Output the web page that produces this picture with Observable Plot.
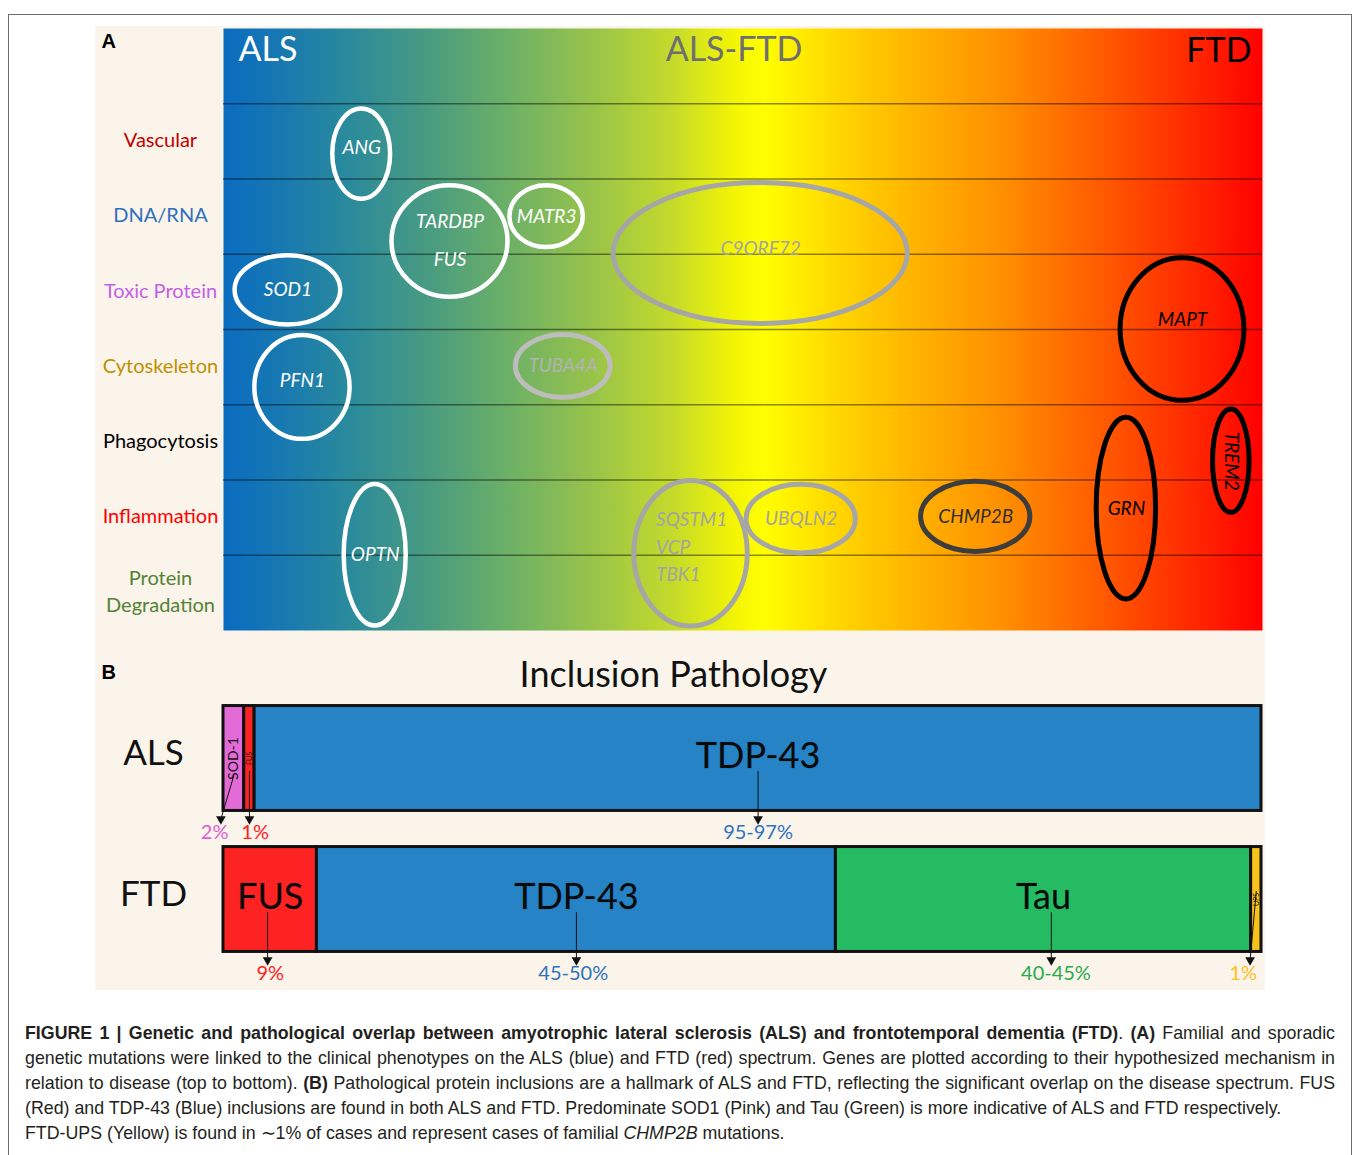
<!DOCTYPE html>
<html><head><meta charset="utf-8">
<script src="https://cdn.jsdelivr.net/npm/d3@7"></script>
<script src="https://cdn.jsdelivr.net/npm/@observablehq/plot@0.6"></script>
<style>
body{margin:0;background:#fff;width:1354px;height:1155px;position:relative;overflow:hidden;font-family:Lato,sans-serif}
#frame{position:absolute;left:8px;top:14px;width:1344px;height:1200px;border:1px solid #6d6d6d;box-sizing:border-box}
#fig{position:absolute;left:95px;top:26px;width:1170px;height:964px;background:#fbf4ea}
#panelA{position:absolute;left:0;top:0}
#panelB{position:absolute;left:0;top:614px}
#caption{position:absolute;left:25px;top:1021px;width:1310px;font-family:"Liberation Sans",Arial,sans-serif;font-size:17.8px;line-height:25px;color:#231f20}
#caption div{white-space:nowrap}
#caption .j{text-align:justify;text-align-last:justify;white-space:normal}
svg{overflow:visible}
</style></head>
<body>
<div id="frame"></div>
<div id="fig"><div id="panelA"></div><div id="panelB"></div></div>
<div id="caption">
<div class="j"><b>FIGURE 1 | Genetic and pathological overlap between amyotrophic lateral sclerosis (ALS) and frontotemporal dementia (FTD)</b>. <b>(A)</b> Familial and sporadic</div>
<div class="j">genetic mutations were linked to the clinical phenotypes on the ALS (blue) and FTD (red) spectrum. Genes are plotted according to their hypothesized mechanism in</div>
<div class="j">relation to disease (top to bottom). <b>(B)</b> Pathological protein inclusions are a hallmark of ALS and FTD, reflecting the significant overlap on the disease spectrum. FUS</div>
<div>(Red) and TDP-43 (Blue) inclusions are found in both ALS and FTD. Predominate SOD1 (Pink) and Tau (Green) is more indicative of ALS and FTD respectively.</div>
<div>FTD-UPS (Yellow) is found in ∼1% of cases and represent cases of familial <i>CHMP2B</i> mutations.</div>
</div>
<script>
// ---------- Panel A data ----------
const mechanisms = ["Vascular","DNA/RNA","Toxic Protein","Cytoskeleton","Phagocytosis","Inflammation","Protein\nDegradation"];
const spectrumLabels = ["ALS","ALS-FTD","FTD"];
const genes        = ["ANG","TARDBP\nFUS","MATR3","C9ORF72","SOD1","PFN1","TUBA4A","OPTN","SQSTM1\nVCP\nTBK1","UBQLN2","CHMP2B","MAPT","GRN","TREM2"];
const geneSpectrum = [13.3, 21.8, 31.1, 51.7, 6.2, 7.6, 32.7, 14.6, 45.0, 55.6, 72.4, 92.3, 86.9, 97.0];
const geneRow      = [1.67, 2.83, 2.50, 2.99, 3.48, 4.77, 4.49, 7.00, 6.98, 6.52, 6.49, 4.00, 6.38, 5.75];
const geneSpreadX  = [3.0, 5.8, 3.75, 14.4, 5.3, 4.8, 4.8, 3.2, 5.7, 5.5, 5.5, 6.2, 3.1, 2.0];
const geneSpreadY  = [0.63, 0.77, 0.44, 0.97, 0.49, 0.72, 0.45, 0.97, 1.0, 0.49, 0.50, 0.98, 1.24, 0.72];
const geneGroup    = ["ALS","ALS","ALS","ALS-FTD","ALS","ALS","ALS-FTD minor","ALS","ALS-FTD","ALS-FTD","FTD minor","FTD","FTD","FTD"];

// ---------- Panel B data ----------
const diseases = ["ALS","FTD"];
const inclusions       = ["SOD-1","FUS","TDP-43","FUS","TDP-43","Tau","UPS"];
const inclusionDisease = ["ALS","ALS","ALS","FTD","FTD","FTD","FTD"];
const inclusionShare   = [2, 1, 97, 9, 50, 40, 1];
const shareLabels      = ["2%","1%","95-97%","9%","45-50%","40-45%","1%"];

// ---------- styles ----------
const mechColors = ["#c00000","#2e70bd","#c55ee6","#bf9000","#000000","#ff0000","#548235"];
const groupStyle = {
  "ALS":           {stroke:"#ffffff", w:4.5, text:"#ffffff"},
  "ALS-FTD":       {stroke:"#a6a6a6", w:5,   text:"#a3a3a3"},
  "ALS-FTD minor": {stroke:"#bdbdbd", w:5,   text:"#b3b3b3"},
  "FTD minor":     {stroke:"#3d3d3d", w:5,   text:"#2e2e2e"},
  "FTD":           {stroke:"#000000", w:5,   text:"#000000"}
};
const inclColor = {"SOD-1":"#e36bd8","FUS":"#fe2323","TDP-43":"#2683c6","Tau":"#25bb63","UPS":"#f7c21c"};
const pctColor  = {"SOD-1":"#df5fd3","FUS":"#ff2020","TDP-43":"#2f72bf","Tau":"#29aa4e","UPS":"#ffbf1a"};

const FONT = "Lato, 'Open Sans', sans-serif";

// gradient defs
const gradientDefs = () => {
  const ns = "http://www.w3.org/2000/svg";
  const defs = document.createElementNS(ns, "defs");
  const lg = document.createElementNS(ns, "linearGradient");
  lg.setAttribute("id", "alsftd");
  lg.setAttribute("x1", "0"); lg.setAttribute("x2", "1"); lg.setAttribute("y1", "0"); lg.setAttribute("y2", "0");
  [[0,"#0a6cc0"],[0.05,"#1677b3"],[0.12,"#2a8a9c"],[0.20,"#4a9c80"],[0.27,"#6aaf68"],[0.35,"#95c24c"],
   [0.43,"#c3da2c"],[0.49,"#f2f405"],[0.52,"#ffff00"],[0.60,"#ffd200"],[0.68,"#ffad00"],[0.75,"#ff8f00"],
   [0.85,"#ff5800"],[0.93,"#ff2a00"],[1,"#ff0000"]].forEach(([o,c]) => {
    const s = document.createElementNS(ns, "stop");
    s.setAttribute("offset", o); s.setAttribute("stop-color", c);
    lg.appendChild(s);
  });
  defs.appendChild(lg);
  return defs;
};

// ellipses drawn through the plot's scales
const geneEllipses = (index, scales) => {
  const g = d3.create("svg:g").attr("fill", "none");
  genes.forEach((name, i) => {
    const st = groupStyle[geneGroup[i]];
    const cx = scales.x(geneSpectrum[i]), cy = scales.y(geneRow[i]);
    const rx = Math.abs(scales.x(geneSpectrum[i] + geneSpreadX[i]) - cx) - st.w / 2;
    const ry = Math.abs(scales.y(geneRow[i] + geneSpreadY[i]) - cy) - st.w / 2;
    g.append("ellipse").attr("cx", cx).attr("cy", cy).attr("rx", rx).attr("ry", ry)
      .attr("stroke", st.stroke).attr("stroke-width", st.w);
  });
  return g.node();
};

const geneTable = genes.map((name, i) => ({name, x: geneSpectrum[i], y: geneRow[i], group: geneGroup[i]}));
const labelNudge = {"ANG": -0.08, "MAPT": -0.13, "PFN1": -0.09, "C9ORF72": -0.06};
const single = geneTable.filter(d => !d.name.includes("\n") && d.name !== "TREM2");

const panelA = Plot.plot({
  width: 1170, height: 614,
  marginLeft: 128, marginRight: 3, marginTop: 2, marginBottom: 10,
  x: {domain: [0, 100], axis: null},
  y: {domain: [0, 8], axis: null, reverse: true},
  style: {background: "transparent", overflow: "visible"},
  marks: [
    gradientDefs,
    Plot.frame({fill: "url(#alsftd)", stroke: "none"}),
    Plot.ruleY(mechanisms.map((d, i) => i + 1), {stroke: "#000", strokeOpacity: 0.45, strokeWidth: 1.6}),
    // spectrum header
    Plot.text([spectrumLabels[0]], {frameAnchor: "top-left", dx: 15, dy: 22, lineAnchor: "middle", textAnchor: "start", fill: "#ffffff", fontSize: 34, fontFamily: FONT}),
    Plot.text([spectrumLabels[1]], {frameAnchor: "top", dx: -9, dy: 22, lineAnchor: "middle", textAnchor: "middle", fill: "#6f6f6f", fontSize: 34, fontFamily: FONT}),
    Plot.text([spectrumLabels[2]], {frameAnchor: "top-right", dx: -11, dy: 23, lineAnchor: "middle", textAnchor: "end", fill: "#000", fontSize: 34, fontFamily: FONT}),
    Plot.text(["A"], {frameAnchor: "top-left", dx: -122, dy: 13, lineAnchor: "middle", textAnchor: "start", fontWeight: "bold", fontSize: 20, fontFamily: "'Liberation Sans', Arial, sans-serif", fill: "#000"}),
    // mechanism labels
    Plot.text(mechanisms, {y: (d, i) => i + 1.5, frameAnchor: "left", dx: -63, dy: -3, textAnchor: "middle",
      fill: (d, i) => mechColors[i], fontSize: 20, fontFamily: FONT, lineHeight: 1.35}),
    geneEllipses,
    // gene labels
    Plot.text(single, {x: "x", y: d => d.y + (labelNudge[d.name] || 0), text: "name", fill: d => groupStyle[d.group].text,
      fontStyle: "italic", fontSize: 19, fontFamily: FONT}),
    Plot.text(geneTable.filter(d => d.name === "TARDBP\nFUS"), {x: "x", y: d => d.y - 0.09, text: "name", fill: d => groupStyle[d.group].text,
      fontStyle: "italic", fontSize: 19, fontFamily: FONT, lineHeight: 2}),
    Plot.text(geneTable.filter(d => d.name.startsWith("SQSTM1")), {x: "x", y: d => d.y - 0.12, text: "name", dx: -35, textAnchor: "start",
      fill: d => groupStyle[d.group].text, fontStyle: "italic", fontSize: 19, fontFamily: FONT, lineHeight: 1.45}),
    Plot.text(geneTable.filter(d => d.name === "TREM2"), {x: "x", y: "y", text: "name", rotate: 90,
      fill: d => groupStyle[d.group].text, fontStyle: "italic", fontSize: 19, fontFamily: FONT})
  ]
});
document.getElementById("panelA").appendChild(panelA);

// ---------- Panel B ----------
const table = inclusions.map((name, i) => ({name, disease: inclusionDisease[i], share: inclusionShare[i], label: shareLabels[i]}));
for (const dis of diseases) {
  let acc = 0;
  for (const d of table.filter(t => t.disease === dis)) {
    d.x1 = acc; acc += d.share; d.x2 = acc; d.mid = (d.x1 + d.x2) / 2; d.row = diseases.indexOf(dis); d.key = dis + ":" + d.name;
  }
}
// small offsets (data units) for the tiny segments' pointers
const pctShift   = {"ALS:SOD-1": -1.85, "ALS:FUS": 0.55, "FTD:UPS": -1.25, "FTD:Tau": 1.2, "FTD:TDP-43": -0.3};
const arrowEnd   = {"ALS:SOD-1": -1.25, "FTD:UPS": -0.6};
const arrowStart = {"ALS:SOD-1": 0.12, "FTD:UPS": -0.06};
const arrowX     = {"FTD:Tau": 0.75, "FTD:FUS": -0.25};
const half = 0.372;

const panelB = Plot.plot({
  width: 1170, height: 350,
  marginLeft: 128, marginRight: 4, marginTop: 118, marginBottom: 91,
  x: {domain: [0, 100], axis: null},
  y: {domain: [0, 1], axis: null, reverse: true},
  style: {background: "transparent", overflow: "visible"},
  marks: [
    Plot.text(["B"], {frameAnchor: "top-left", dx: -122, dy: -86, lineAnchor: "middle", textAnchor: "start", fontWeight: "bold", fontSize: 20, fontFamily: "'Liberation Sans', Arial, sans-serif", fill: "#000"}),
    Plot.text(["Inclusion Pathology"], {frameAnchor: "top-left", dx: 450, dy: -83, lineAnchor: "middle", textAnchor: "middle", fontSize: 36, fontFamily: FONT, fill: "#111"}),
    Plot.text(diseases, {y: (d, i) => i, frameAnchor: "left", dx: -70, textAnchor: "middle", fontSize: 35, fontFamily: FONT, fill: "#111", dy: -5}),
    Plot.rect(table, {x1: "x1", x2: "x2", y1: d => d.row - half, y2: d => d.row + half,
      fill: d => inclColor[d.name], stroke: "#111", strokeWidth: 3}),
    // big labels
    Plot.text(table.filter(d => d.share >= 5), {x: "mid", y: "row", text: "name", dy: -2, fontSize: 36, fontFamily: FONT, fill: "#0a0a0a",
      stroke: "rgba(0,0,0,0.15)", strokeWidth: 1}),
    // tiny rotated labels
    Plot.text(table.filter(d => d.share < 5), {x: "mid", y: "row", text: "name", rotate: -90,
      fontSize: d => d.name === "SOD-1" ? 14 : 7, fontFamily: FONT, fill: "#111"}),
    // pointers
    Plot.link(table, {x1: d => d.mid + (arrowX[d.key] || 0), y1: d => d.row + (arrowStart[d.key] ?? 0.09),
      x2: d => d.mid + (arrowX[d.key] || 0) + (arrowEnd[d.key] || 0), y2: d => d.row + 0.43, stroke: "#111", strokeWidth: 1}),
    Plot.dot(table, {x: d => d.mid + (arrowX[d.key] || 0) + (arrowEnd[d.key] || 0), y: d => d.row + 0.43, symbol: "triangle", rotate: 180,
      r: 3.6, fill: "#111", stroke: "none"}),
    Plot.text(table, {x: d => d.mid + (pctShift[d.key] || 0), y: d => d.row + 0.525, text: "label",
      fill: d => pctColor[d.name], fontSize: 20, fontFamily: FONT})
  ]
});
document.getElementById("panelB").appendChild(panelB);
</script>
</body></html>
